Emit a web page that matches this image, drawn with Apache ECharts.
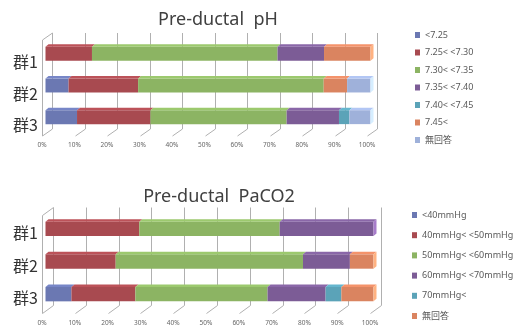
<!DOCTYPE html>
<html><head><meta charset="utf-8">
<script src="https://cdn.jsdelivr.net/npm/echarts@6/dist/echarts.min.js"></script>
<style>html,body{margin:0;padding:0;background:#fff}#c{width:520px;height:327px}</style>
</head><body><div id="c"></div>
<script>
// ---------- DATA ----------
const categories = ['群1', '群2', '群3'];
const tickValues = [0, 10, 20, 30, 40, 50, 60, 70, 80, 90, 100];

const phTitle = 'Pre-ductal  pH';
const phNames = ['<7.25', '7.25< <7.30', '7.30< <7.35', '7.35< <7.40', '7.40< <7.45', '7.45<', '無回答'];
const phLt725     = [0,    7.1,  9.7];
const ph725to730  = [14.3, 21.4, 22.6];
const ph730to735  = [57.1, 57.1, 41.9];
const ph735to740  = [14.3, 0,    16.1];
const ph740to745  = [0,    0,    3.2];
const phGt745     = [14.3, 7.2,  0];
const phNoAnswer  = [0,    7.2,  6.5];

const co2Title = 'Pre-ductal  PaCO2';
const co2Names = ['<40mmHg', '40mmHg< <50mmHg', '50mmHg< <60mmHg', '60mmHg< <70mmHg', '70mmHg<', '無回答'];
const co2Lt40     = [0,    0,    7.9];
const co2_40to50  = [28.6, 21.4, 19.5];
const co2_50to60  = [42.8, 57.1, 40.3];
const co2_60to70  = [28.6, 14.3, 17.7];
const co2Gt70     = [0,    0,    4.8];
const co2NoAnswer = [0,    7.2,  9.8];

// ---------- STYLE ----------
const phColors  = ['#6B78B2', '#A84A50', '#8CB463', '#7C5C96', '#5BA3B8', '#DA8460', '#9FB1DA'];
const co2Colors = ['#6B78B2', '#A84A50', '#8CB463', '#7C5C96', '#5BA3B8', '#DA8460'];
const FONT = '"Noto Sans", "Noto Sans CJK JP", sans-serif';
const BX = 3.5, BDX = 3, BDY = 2.5;

function barRender(params, api) {
  const s = api.value(0), e = api.value(1), c = api.value(2), last = api.value(3);
  if (e - s <= 0) return null;
  const p0 = api.coord([s, c]), p1 = api.coord([e, c]);
  const band = api.size([0, 1])[1];
  const h = band * 0.44;
  const x0 = p0[0] + BX, x1 = p1[0] + BX, yT = p0[1] - h / 2, yB = p0[1] + h / 2;
  const col = api.visual('color');
  const children = [
    { type: 'rect', shape: { x: x0, y: yT, width: x1 - x0, height: h }, style: { fill: col } },
    { type: 'polygon', shape: { points: [[x0, yT], [x1, yT], [x1 + BDX, yT - BDY], [x0 + BDX, yT - BDY]] },
      style: { fill: echarts.color.lift(col, -0.12) } }
  ];
  if (last) children.push({ type: 'polygon',
    shape: { points: [[x1, yT], [x1 + BDX, yT - BDY], [x1 + BDX, yB - BDY], [x1, yB]] },
    style: { fill: echarts.color.lift(col, -0.35) } });
  return { type: 'group', children };
}

function frameRender(dx, dy) {
  return function (params, api) {
    const cs = params.coordSys;
    const t = api.value(0);
    const x = Math.round(api.coord([t, 0])[0]) + 0.5;
    const fb = cs.y + cs.height + 3;
    const top = cs.y - 5;
    const st = { stroke: '#B0B0B0', lineWidth: 1 };
    const ch = [
      { type: 'line', shape: { x1: x + dx, y1: top, x2: x + dx, y2: fb + dy }, style: st },
      { type: 'line', shape: { x1: x, y1: fb, x2: x + dx, y2: fb + dy }, style: st }
    ];
    if (t === 0) {
      ch.push({ type: 'line', shape: { x1: x, y1: top - dy, x2: x, y2: fb }, style: st });
      ch.push({ type: 'line', shape: { x1: x, y1: top - dy, x2: x + dx, y2: top }, style: st });
    }
    return { type: 'group', children: ch };
  };
}

function labelRender(offY) {
  return function (params, api) {
    const c = api.value(1);
    const p = api.coord([0, c]);
    return { type: 'text', style: { text: categories[c], x: p[0] - 4, y: p[1] + offY,
      align: 'right', verticalAlign: 'middle', fill: '#333', font: '16px "Noto Sans CJK JP", sans-serif' } };
  };
}

function buildSeries(names, arrays, colors, g) {
  const cum = categories.map(() => 0);
  const lastIdx = categories.map((_, c) => { let li = -1; arrays.forEach((a, i) => { if (a[c] > 0) li = i; }); return li; });
  return names.map((name, i) => ({
    type: 'custom', name, xAxisIndex: g, yAxisIndex: g, z: 3,
    renderItem: barRender, encode: { x: [0, 1], y: 2 },
    itemStyle: { color: colors[i] },
    data: categories.map((_, c) => { const s = cum[c]; const e = s + arrays[i][c]; cum[c] = e; return [s, e, c, lastIdx[c] === i ? 1 : 0]; })
  }));
}

const phArrays = [phLt725, ph725to730, ph730to735, ph735to740, ph740to745, phGt745, phNoAnswer];
const co2Arrays = [co2Lt40, co2_40to50, co2_50to60, co2_60to70, co2Gt70, co2NoAnswer];

function xAxisCfg(g) {
  return { type: 'value', gridIndex: g, min: 0, max: 100, interval: 10,
    axisLine: { show: false }, axisTick: { show: false }, splitLine: { show: false },
    axisLabel: { formatter: '{value}%', fontSize: 6.5, color: '#666', margin: 9, fontFamily: FONT,
      showMinLabel: true, showMaxLabel: true } };
}
function yAxisCfg(g) {
  return { type: 'category', gridIndex: g, data: categories, inverse: true,
    axisLine: { show: false }, axisTick: { show: false }, axisLabel: { show: false }, splitLine: { show: false } };
}

const chart = echarts.init(document.getElementById('c'));
const legendText = { fontSize: 9, color: '#595959', fontFamily: FONT, lineHeight: 12 };
chart.setOption({
  animation: false,
  title: [
    { text: phTitle, left: 213, top: 6, textAlign: 'center',
      textStyle: { fontSize: 18, fontWeight: 'normal', color: '#404040', fontFamily: FONT } },
    { text: co2Title, left: 214, top: 183, textAlign: 'center',
      textStyle: { fontSize: 18, fontWeight: 'normal', color: '#404040', fontFamily: FONT } }
  ],
  legend: [
    { orient: 'vertical', left: 415, top: 29, padding: 0, itemWidth: 5, itemHeight: 6, itemGap: 5.5, icon: 'rect',
      textStyle: legendText, data: phNames.map((n, i) => ({ name: n, itemStyle: { color: phColors[i] } })) },
    { orient: 'vertical', left: 412, top: 209, padding: 0, itemWidth: 5, itemHeight: 6, itemGap: 8.2, icon: 'rect',
      textStyle: legendText, data: co2Names.map((n, i) => ({ name: n, itemStyle: { color: co2Colors[i] } })) }
  ],
  grid: [
    { left: 42, right: 153, top: 38, height: 95 },
    { left: 42, right: 150, top: 212.5, height: 98 }
  ],
  xAxis: [xAxisCfg(0), xAxisCfg(1)],
  yAxis: [yAxisCfg(0), yAxisCfg(1)],
  series: [
    { type: 'custom', xAxisIndex: 0, yAxisIndex: 0, z: 1, renderItem: frameRender(10, -7),
      encode: { x: 0, y: 1 }, data: tickValues.map(t => [t, 0]), silent: true },
    { type: 'custom', xAxisIndex: 1, yAxisIndex: 1, z: 1, renderItem: frameRender(11, -8),
      encode: { x: 0, y: 1 }, data: tickValues.map(t => [t, 0]), silent: true },
    { type: 'custom', xAxisIndex: 0, yAxisIndex: 0, z: 2, renderItem: labelRender(8),
      encode: { x: 0, y: 1 }, data: categories.map((_, c) => [0, c]), silent: true },
    { type: 'custom', xAxisIndex: 1, yAxisIndex: 1, z: 2, renderItem: labelRender(4),
      encode: { x: 0, y: 1 }, data: categories.map((_, c) => [0, c]), silent: true },
    ...buildSeries(phNames, phArrays, phColors, 0),
    ...buildSeries(co2Names, co2Arrays, co2Colors, 1)
  ]
});
</script>
</body></html>
